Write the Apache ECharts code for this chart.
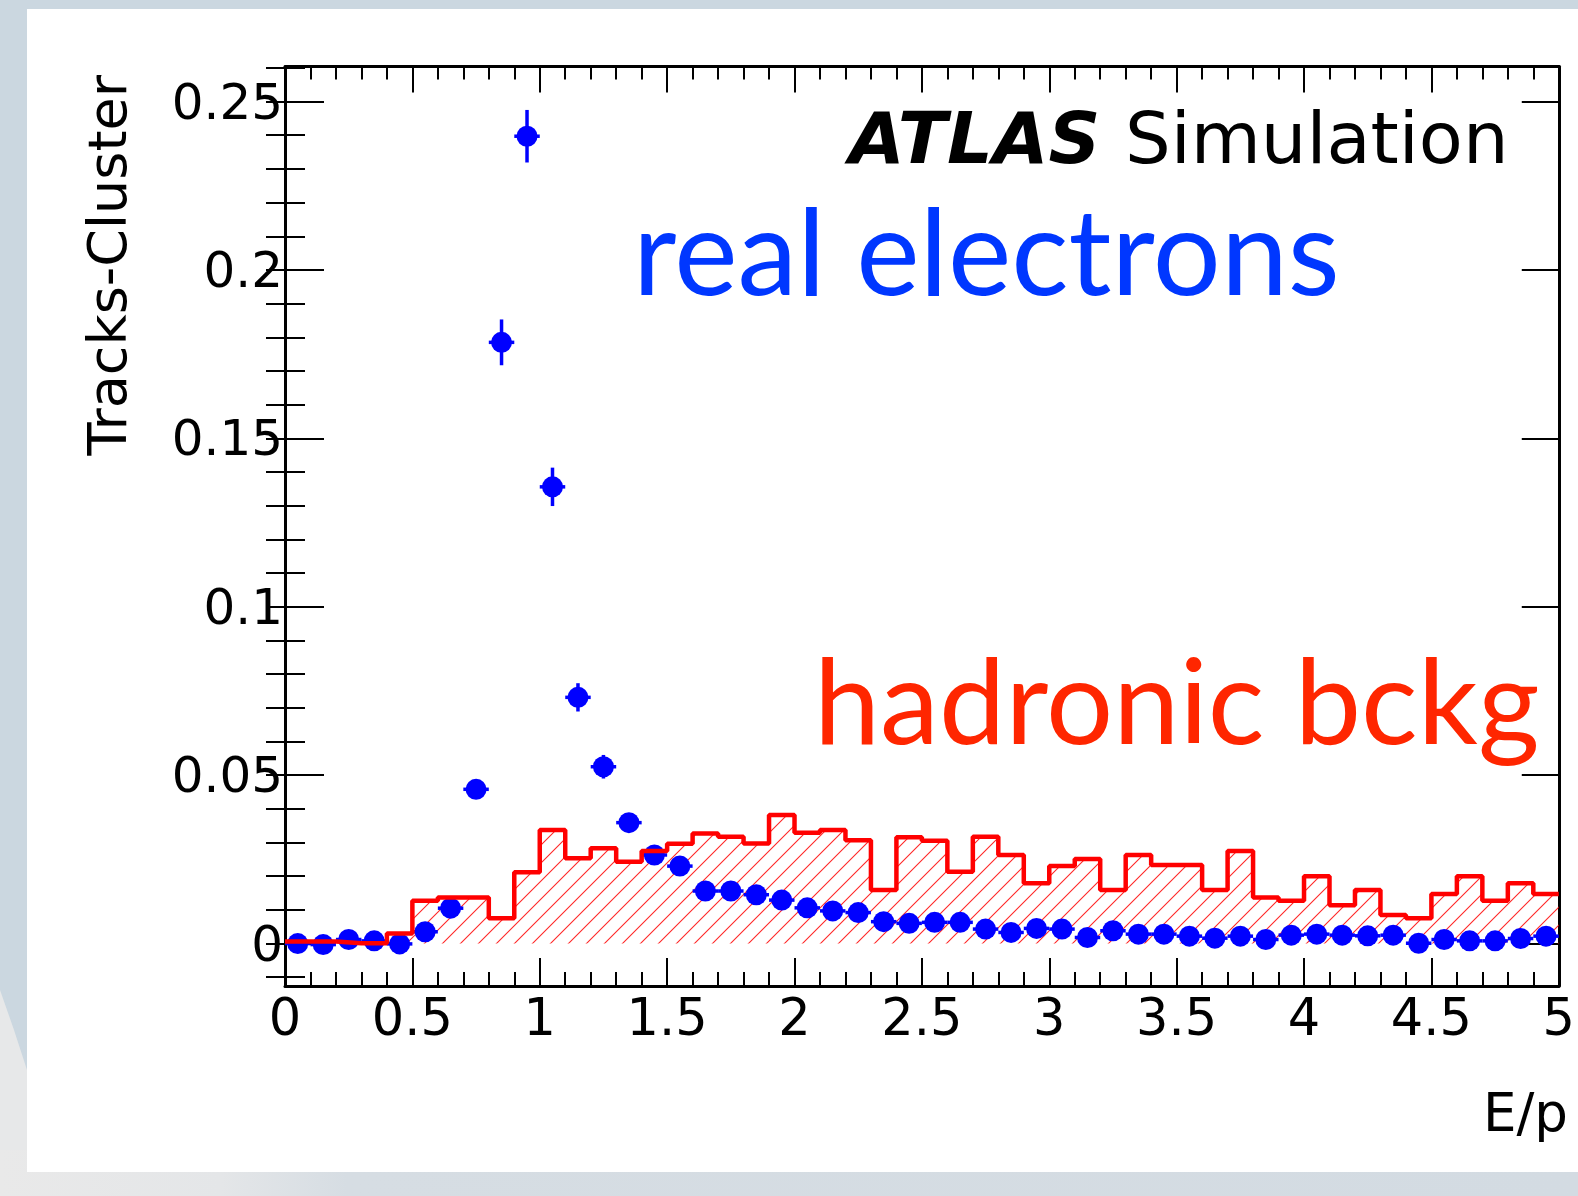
<!DOCTYPE html>
<html>
<head>
<meta charset="utf-8">
<title>E/p — real electrons vs hadronic background</title>
<script src="https://cdn.jsdelivr.net/npm/echarts@6/dist/echarts.min.js"></script>
<style>
  html, body { margin: 0; padding: 0; background: #cbd7e0; }
  #chart { width: 1578px; height: 1196px; }
</style>
</head>
<body>
<div id="chart"></div>
<script>
// ---- data -------------------------------------------------------------
// E/p bin centres (bin width 0.1)
const binCenters = [
  0.05, 0.15, 0.25, 0.35, 0.45, 0.55, 0.65, 0.75, 0.85, 0.95,
  1.05, 1.15, 1.25, 1.35, 1.45, 1.55, 1.65, 1.75, 1.85, 1.95,
  2.05, 2.15, 2.25, 2.35, 2.45, 2.55, 2.65, 2.75, 2.85, 2.95,
  3.05, 3.15, 3.25, 3.35, 3.45, 3.55, 3.65, 3.75, 3.85, 3.95,
  4.05, 4.15, 4.25, 4.35, 4.45, 4.55, 4.65, 4.75, 4.85, 4.95
];
const binWidth = 0.1;

// real electrons (points with errors)
const electronValues = [
  0.0000, -0.0003, 0.0012, 0.0008, -0.0001, 0.0035, 0.0105, 0.0458, 0.1785, 0.2397,
  0.1356, 0.0731, 0.0525, 0.0359, 0.0263, 0.0230, 0.0156, 0.0156, 0.0145, 0.0129,
  0.0106, 0.0097, 0.0092, 0.0065, 0.0060, 0.0063, 0.0063, 0.0043, 0.0033, 0.0045,
  0.0043, 0.0018, 0.0038, 0.0028, 0.0028, 0.0022, 0.0016, 0.0022, 0.0012, 0.0025,
  0.0028, 0.0025, 0.0023, 0.0025, 0.0001, 0.0012, 0.0008, 0.0008, 0.0015, 0.0022
];
const electronErrors = [
  0.0010, 0.0010, 0.0010, 0.0010, 0.0010, 0.0012, 0.0015, 0.0025, 0.0068, 0.0078,
  0.0057, 0.0042, 0.0035, 0.0025, 0.0018, 0.0016, 0.0013, 0.0013, 0.0012, 0.0012,
  0.0011, 0.0010, 0.0010, 0.0009, 0.0009, 0.0009, 0.0009, 0.0008, 0.0007, 0.0008,
  0.0008, 0.0006, 0.0007, 0.0006, 0.0006, 0.0006, 0.0005, 0.0006, 0.0005, 0.0006,
  0.0006, 0.0006, 0.0006, 0.0006, 0.0004, 0.0005, 0.0005, 0.0005, 0.0005, 0.0006
];

// hadronic background (hatched histogram)
const hadronValues = [
  0.0006, 0.0006, 0.0001, 0.0001, 0.0030, 0.0127, 0.0137, 0.0137, 0.0075, 0.0212,
  0.0337, 0.0253, 0.0283, 0.0243, 0.0275, 0.0296, 0.0327, 0.0317, 0.0297, 0.0382,
  0.0329, 0.0337, 0.0307, 0.0159, 0.0316, 0.0305, 0.0213, 0.0317, 0.0263, 0.0179,
  0.0230, 0.0251, 0.0159, 0.0263, 0.0233, 0.0233, 0.0159, 0.0275, 0.0137, 0.0127,
  0.0200, 0.0114, 0.0159, 0.0085, 0.0075, 0.0147, 0.0200, 0.0127, 0.0179, 0.0147
];

// axis ranges and tick values
const xMin = 0, xMax = 5, xMajorStep = 0.5;
const yMin = -0.0126, yMax = 0.2604;
const yMajorTicks = [0, 0.05, 0.1, 0.15, 0.2, 0.25];
const yMinorTicks = [
  -0.01, 0.00, 0.01, 0.02, 0.03, 0.04, 0.05, 0.06, 0.07, 0.08, 0.09, 0.10, 0.11, 0.12,
  0.13, 0.14, 0.15, 0.16, 0.17, 0.18, 0.19, 0.20, 0.21, 0.22, 0.23, 0.24, 0.25, 0.26
];

// ---- derived series data ---------------------------------------------
// histogram outline: left edge of every bin, closed at the last right edge
const histData = binCenters.map((c, i) => [c - binWidth / 2, hadronValues[i]]);
histData.push([binCenters[binCenters.length - 1] + binWidth / 2, hadronValues[hadronValues.length - 1]]);

const pointData = binCenters.map((c, i) => [c, electronValues[i], electronErrors[i]]);

// ---- styles -----------------------------------------------------------
const FONT = 'DejaVu Sans';
const BLUE = '#0000ff';
const RED = '#ff0000';

function hatchPattern() {
  const s = 18;
  const cv = document.createElement('canvas');
  cv.width = s; cv.height = s;
  const g = cv.getContext('2d');
  g.strokeStyle = 'rgba(255,0,0,0.85)';
  g.lineWidth = 1.1;
  g.beginPath();
  g.moveTo(0, s); g.lineTo(s, 0);
  g.moveTo(-s / 2, s / 2); g.lineTo(s / 2, -s / 2);
  g.moveTo(s / 2, s * 1.5); g.lineTo(s * 1.5, s / 2);
  g.stroke();
  return cv;
}

const tickStyle = { color: '#000', width: 2 };
const frameLine = { show: true, onZero: false, lineStyle: { color: '#000', width: 3 } };

function xAxisDef(position, showLabels) {
  return {
    type: 'value', position, min: xMin, max: xMax, interval: xMajorStep,
    axisLine: frameLine,
    axisTick: { show: true, inside: true, length: position === 'bottom' ? 28 : 26, lineStyle: tickStyle },
    minorTick: { show: true, splitNumber: 5, length: position === 'bottom' ? 14 : 13, lineStyle: tickStyle },
    axisLabel: { show: showLabels, fontFamily: FONT, fontSize: 51, color: '#000', margin: 10 },
    splitLine: { show: false }, minorSplitLine: { show: false }
  };
}

function yAxisDef(position, values, tickLen, showLine, showLabels) {
  return {
    type: 'value', position, min: yMin, max: yMax,
    axisLine: showLine ? frameLine : { show: false },
    axisTick: { show: true, inside: true, length: tickLen, customValues: values, lineStyle: tickStyle },
    axisLabel: {
      show: showLabels, customValues: values, fontFamily: FONT, fontSize: 50, color: '#000',
      margin: 2, verticalAlign: 'top', lineHeight: 8
    },
    splitLine: { show: false }
  };
}

const chart = echarts.init(document.getElementById('chart'), null, { renderer: 'canvas' });

chart.setOption({
  animation: false,
  backgroundColor: '#cbd7e0',
  grid: { left: 285, right: 14, top: 66.5, bottom: 210, containLabel: false },
  xAxis: [xAxisDef('bottom', true), xAxisDef('top', false)],
  yAxis: [
    yAxisDef('left', yMajorTicks, 39, true, true),
    yAxisDef('left', yMinorTicks, 20, false, false),
    yAxisDef('right', yMajorTicks, 37, true, false),
    yAxisDef('right', yMinorTicks, 19, false, false)
  ],
  graphic: [
    // page backdrop and white panel
    { type: 'rect', silent: true, z: -20,
      shape: { x: 0, y: 1150, width: 1578, height: 46 },
      style: { fill: {
        type: 'linear', x: 0, y: 0, x2: 1, y2: 0,
        colorStops: [
          { offset: 0, color: '#e9e9e9' }, { offset: 0.14, color: '#e4e6e8' },
          { offset: 0.22, color: '#d6dde3' }, { offset: 1, color: '#d3dbe2' }
        ] } } },
    { type: 'polygon', silent: true, z: -20, smooth: 0.3,
      shape: { points: [[0, 990], [14, 1030], [27, 1070], [60, 1150], [0, 1150]] },
      style: { fill: '#e7e8e9' } },
    { type: 'rect', silent: true, z: -10,
      shape: { x: 27, y: 9, width: 1551, height: 1163 },
      style: { fill: '#ffffff' } },
    // labels
    { type: 'text', z: 50, x: 849, y: 144,
      style: { text: 'ATLAS', font: 'italic bold 72px "DejaVu Sans"', fill: '#000', verticalAlign: 'middle', align: 'left' } },
    { type: 'text', z: 50, x: 1125, y: 144,
      style: { text: 'Simulation', font: '72px "DejaVu Sans"', fill: '#000', verticalAlign: 'middle', align: 'left' } },
    { type: 'text', z: 50, x: 633, y: 256.6,
      style: { text: 'real electrons', font: '120px "Lato"', fill: '#0037ff', verticalAlign: 'middle', align: 'left' } },
    { type: 'text', z: 50, x: 814, y: 706,
      style: { text: 'hadronic bckg', font: '118.5px "Lato"', fill: '#ff2600', verticalAlign: 'middle', align: 'left' } },
    { type: 'text', z: 50, x: 1568, y: 1117,
      style: { text: 'E/p', font: '53px "DejaVu Sans"', fill: '#000', verticalAlign: 'middle', align: 'right' } },
    { type: 'text', z: 50, x: 112, y: 75, rotation: Math.PI / 2,
      style: { text: 'Tracks-Cluster', font: '54px "DejaVu Sans"', fill: '#000', verticalAlign: 'middle', align: 'right' } }
  ],
  series: [
    {
      name: 'hadronic bckg fill', type: 'line', step: 'end', data: histData,
      xAxisIndex: 0, yAxisIndex: 0, z: 1,
      showSymbol: false, symbol: 'none',
      lineStyle: { width: 0, opacity: 0 },
      areaStyle: { color: { image: hatchPattern(), repeat: 'repeat' }, opacity: 1 }
    },
    {
      name: 'real electrons', type: 'custom', data: pointData,
      xAxisIndex: 0, yAxisIndex: 0, z: 3,
      renderItem(params, api) {
        const x = api.value(0), y = api.value(1), e = api.value(2);
        const c = api.coord([x, y]);
        const l = api.coord([x - binWidth / 2, y]);
        const r = api.coord([x + binWidth / 2, y]);
        const lo = api.coord([x, y - e]);
        const hi = api.coord([x, y + e]);
        return {
          type: 'group',
          children: [
            { type: 'line', shape: { x1: l[0], y1: l[1], x2: r[0], y2: r[1] }, style: { stroke: BLUE, lineWidth: 3.5 } },
            { type: 'line', shape: { x1: lo[0], y1: lo[1], x2: hi[0], y2: hi[1] }, style: { stroke: BLUE, lineWidth: 3.5 } },
            { type: 'circle', shape: { cx: c[0], cy: c[1], r: 10.5 }, style: { fill: BLUE } }
          ]
        };
      }
    },
    {
      name: 'hadronic bckg', type: 'line', step: 'end', data: histData,
      xAxisIndex: 0, yAxisIndex: 0, z: 4,
      showSymbol: false, symbol: 'none',
      lineStyle: { color: RED, width: 4.5 }
    }
  ]
});
</script>
</body>
</html>
